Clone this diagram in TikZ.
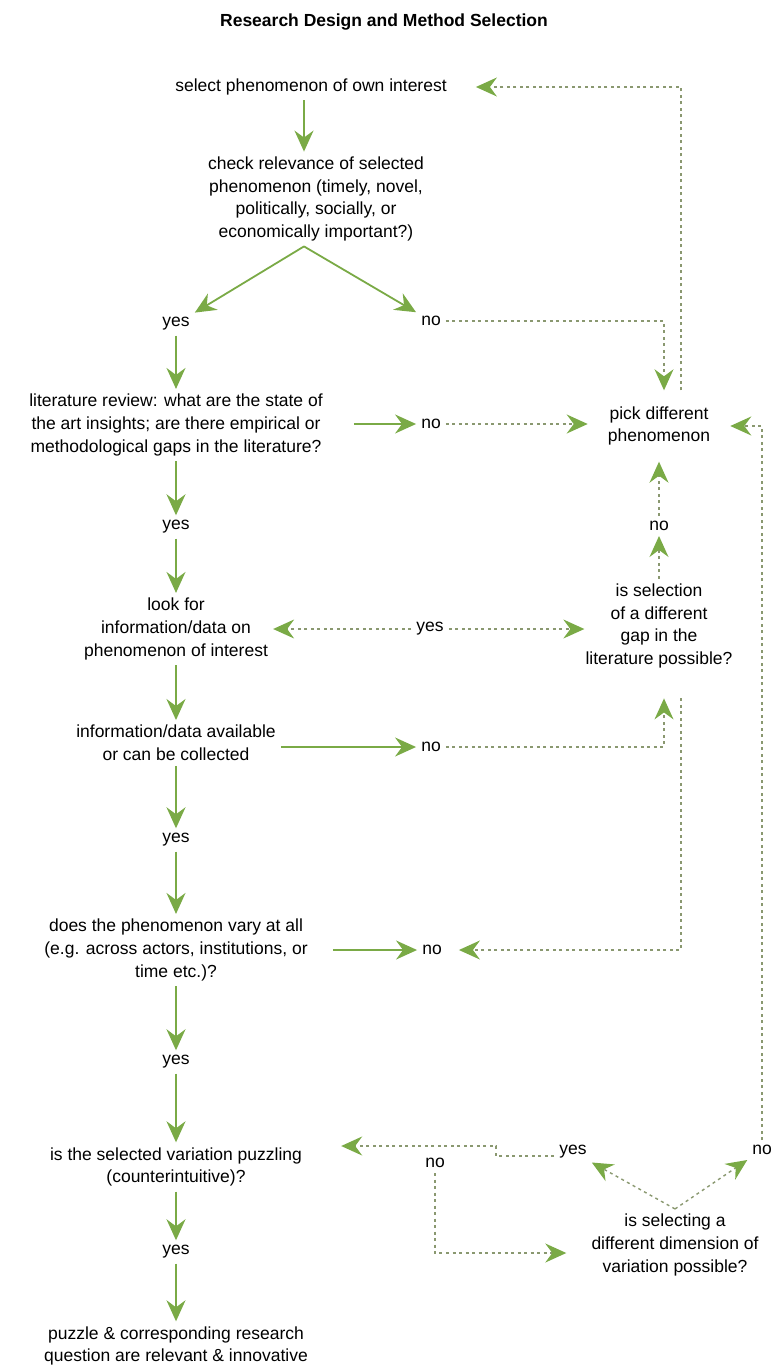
\documentclass[tikz,border=0pt]{standalone}
\usepackage{fontspec}
\setmainfont{Liberation Sans}
\usetikzlibrary{arrows.meta, calc, positioning}
\definecolor{leaf}{RGB}{122,170,70}
\definecolor{dashgreen}{RGB}{138,152,112}

\begin{document}
\begin{tikzpicture}[x=1pt, y=-1pt, font=\fontsize{17.5}{22.7}\selectfont]
    \tikzset{
        stage/.style={align=center, inner sep=5pt},
        answer/.style={inner sep=5pt},
        arrow/.style={draw=leaf, line width=1.8pt,
                      -{Stealth[length=21pt, width=19pt, inset=7pt]}},
        dotarrow/.style={draw=dashgreen, line width=1.4pt, dash pattern=on 3pt off 3.5pt,
                         -{Stealth[length=21pt, width=19pt, inset=7pt, color=leaf]}}
    }
    \useasboundingbox (0,0) rectangle (775,1370);
    \node[font=\fontsize{17.5}{22.7}\selectfont\bfseries] (title) at (384,22)
        {Research Design and Method Selection};
    % main column
    \node[stage] (sel)    at (311,87)   {select phenomenon of own interest};
    \node[stage] (chk)    at (316,199)  {check relevance of selected\\phenomenon (timely, novel,\\politically, socially, or\\economically important?)};
    \node[answer] (yes1)  at (176,324)  {yes};
    \node[stage] (lit)    at (176,425)  {literature review: what are the state of\\the art insights; are there empirical or\\methodological gaps in the literature?};
    \node[answer] (yes2)  at (176,527)  {yes};
    \node[stage] (look)   at (176,629)  {look for\\information/data on\\phenomenon of interest};
    \node[stage] (avail)  at (176,743)  {information/data available\\or can be collected};
    \node[answer] (yes4)  at (176,840)  {yes};
    \node[stage] (vary)   at (176,950)  {does the phenomenon vary at all\\(e.g. across actors, institutions, or\\time etc.)?};
    \node[answer] (yes5)  at (176,1062) {yes};
    \node[stage] (puzzle) at (176,1167) {is the selected variation puzzling\\(counterintuitive)?};
    \node[answer] (yes6)  at (176,1252) {yes};
    \node[stage] (final)  at (176,1346) {puzzle \& corresponding research\\question are relevant \& innovative};
    % middle answers
    \node[answer] (no1)   at (431,321)  {no};
    \node[answer] (no2)   at (431,424)  {no};
    \node[answer] (yes3)  at (430,629)  {yes};
    \node[answer] (no4)   at (431,747)  {no};
    \node[answer] (no5)   at (432,950)  {no};
    \node[answer] (noL)   at (435,1163) {no};
    % right column
    \node[stage, inner xsep=20pt, inner ysep=16pt] (pick) at (659,426) {pick different\\phenomenon};
    \node[answer] (no3)   at (659,526)  {no};
    \node[stage] (gap)    at (659,626)  {is selection\\of a different\\gap in the\\literature possible?};
    \node[answer] (yesR)  at (573,1152) {yes};
    \node[answer] (noR)   at (762,1150) {no};
    \node[stage] (dim)    at (675,1245) {is selecting a\\different dimension of\\variation possible?};

    \coordinate (apex) at ([xshift=-12pt]chk.south);
    \coordinate (gapfoot) at ([yshift=-25pt]gap.south);

    \draw[arrow] ([xshift=-7pt]sel.south) -- ([xshift=-12pt]chk.north);
    \draw[arrow] (apex) -- (yes1);
    \draw[arrow] (apex) -- (no1);
    \draw[arrow] (yes1) -- (lit);
    \draw[arrow] (lit) -- (yes2);
    \draw[arrow] (yes2) -- (look);
    \draw[arrow] (look) -- (avail);
    \draw[arrow] (avail) -- (yes4);
    \draw[arrow] (yes4) -- (vary);
    \draw[arrow] (vary) -- (yes5);
    \draw[arrow] (yes5) -- (puzzle);
    \draw[arrow] (puzzle) -- (yes6);
    \draw[arrow] (yes6) -- (final);
    \draw[arrow, shorten <=26pt] (lit.east |- no2) -- (no2);
    \draw[arrow] (avail.east |- no4) -- (no4);
    \draw[arrow, shorten <=20pt] (vary.east |- no5) -- (no5);

    % dotted returns
    \draw[dotarrow] (no1) -| ([xshift=5pt]pick.north);
    \draw[dotarrow, shorten >=24pt] ([xshift=22pt]pick.north) |- (sel.east);
    \draw[dotarrow] (no2) -- (no2 -| pick.west);
    \draw[dotarrow] (yes3) -- (yes3 -| look.east);
    \draw[dotarrow] (yes3) -- ([xshift=4pt]yes3 -| gap.west);
    \draw[dotarrow] (gap) -- (no3);
    \draw[dotarrow] (no3) -- (pick);
    \draw[dotarrow] (no4) -| ([xshift=5pt]gapfoot);
    \draw[dotarrow, shorten >=12pt] ([xshift=22pt]gapfoot) |- (no5);
    \draw[dotarrow] (noR) |- (pick);
    \draw[dotarrow, shorten >=34pt] ([yshift=-4pt]yesR.west) -- ++(-58pt,0) |- ([yshift=21pt]puzzle.east);
    \draw[dotarrow] (dim.north) -- (yesR);
    \draw[dotarrow] (dim.north) -- (noR);
    \draw[dotarrow, shorten >=20pt] (noL) |- ([yshift=-8pt]dim.west);
\end{tikzpicture}
\end{document}
